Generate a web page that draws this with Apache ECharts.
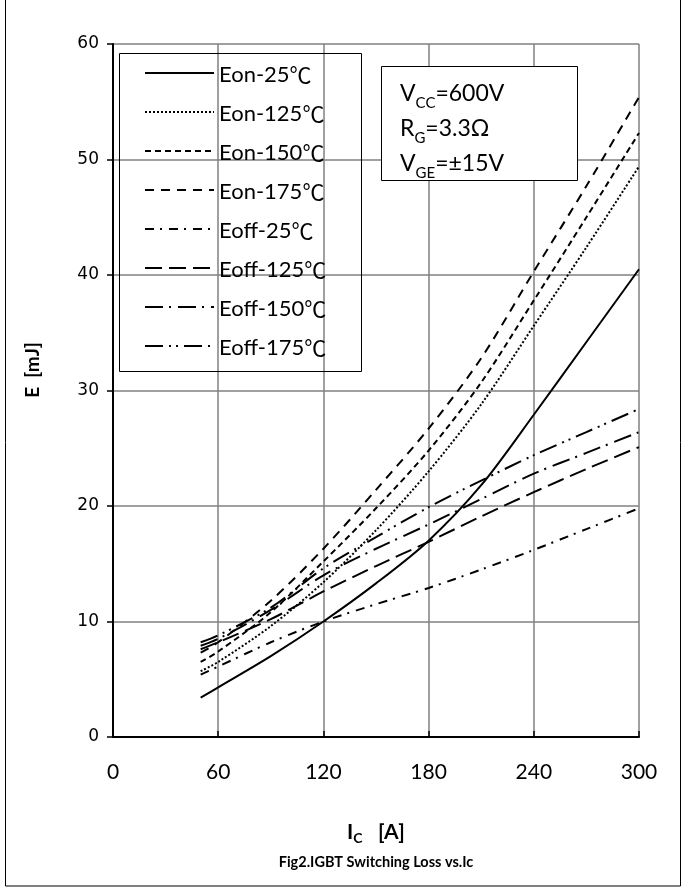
<!DOCTYPE html>
<html><head><meta charset="utf-8">
<script src="https://cdn.jsdelivr.net/npm/echarts@6/dist/echarts.min.js"></script>
<style>html,body{margin:0;padding:0;background:#fff}#c{width:686px;height:892px}</style>
</head><body><div id="c"></div>
<script>
// Collector current Ic [A]
const currents = [50, 60, 90, 120, 150, 180, 210, 240, 270, 300];
// Switching energy [mJ]
const eon25   = [3.4, 4.3, 7.0, 10.0, 13.3, 17.0, 21.8, 27.9, 34.2, 40.5];
const eon125  = [5.7, 6.5, 9.6, 13.4, 17.9, 23.0, 28.8, 35.6, 42.4, 49.4];
const eon150  = [6.5, 7.4, 10.8, 15.2, 19.8, 24.8, 30.7, 37.8, 45.0, 52.3];
const eon175  = [7.3, 8.2, 11.8, 16.3, 21.4, 26.7, 32.8, 40.3, 47.7, 55.4];
const eoff25  = [5.4, 6.1, 8.2, 10.0, 11.5, 12.9, 14.5, 16.2, 18.0, 19.8];
const eoff125 = [7.6, 8.2, 10.2, 12.6, 14.8, 16.9, 19.1, 21.2, 23.2, 25.1];
const eoff150 = [7.9, 8.5, 11.0, 14.0, 16.3, 18.4, 20.6, 22.8, 24.6, 26.4];
const eoff175 = [8.2, 8.8, 11.2, 14.6, 17.3, 19.9, 22.2, 24.4, 26.4, 28.4];
const seriesNames = ['Eon-25℃','Eon-125℃','Eon-150℃','Eon-175℃','Eoff-25℃','Eoff-125℃','Eoff-150℃','Eoff-175℃'];
const xTicks = [0, 60, 120, 180, 240, 300];
const yTicks = [0, 10, 20, 30, 40, 50, 60];

const allValues = [eon25, eon125, eon150, eon175, eoff25, eoff125, eoff150, eoff175];
const dashes = ['solid', [2, 2], [6, 4], [9, 7], [9, 6, 2, 7], [17, 7], [18, 6, 2, 7], [18, 6, 2, 5, 2, 6]];

const series = allValues.map((vals, i) => ({
  name: seriesNames[i],
  type: 'line',
  smooth: 0.3,
  symbol: 'none',
  data: currents.map((c, j) => [c, vals[j]]),
  lineStyle: { color: '#000', width: 2, type: dashes[i] },
  itemStyle: { color: '#000' },
  z: 3
}));

const chart = echarts.init(document.getElementById('c'), null, { renderer: 'canvas' });
const calib = 'Lato, "Open Sans", sans-serif';
chart.setOption({
  animation: false,
  backgroundColor: '#fff',
  grid: { left: 113, right: 47, top: 44, bottom: 155, containLabel: false },
  xAxis: {
    type: 'value', min: xTicks[0], max: xTicks[xTicks.length - 1], interval: 60,
    axisLine: { show: true, lineStyle: { color: '#000', width: 2 } },
    axisTick: { show: true, inside: true, length: 6, lineStyle: { color: '#000', width: 1.5 } },
    axisLabel: { margin: 25, fontFamily: calib, fontSize: 21, color: '#000' },
    splitLine: { show: true, lineStyle: { color: '#808080', width: 1.5 } }
  },
  yAxis: {
    type: 'value', min: yTicks[0], max: yTicks[yTicks.length - 1], interval: 10,
    axisLine: { show: true, lineStyle: { color: '#000', width: 2 } },
    axisTick: { show: true, inside: false, length: 6, lineStyle: { color: '#000', width: 1.5 } },
    axisLabel: { margin: 14, fontFamily: '"DejaVu Sans", sans-serif', fontSize: 17, color: '#000' },
    splitLine: { show: true, lineStyle: { color: '#808080', width: 1.5 } }
  },
  legend: {
    orient: 'vertical', left: 144, top: 60, padding: 0,
    itemWidth: 69, itemHeight: 20, itemGap: 13,
    itemStyle: { opacity: 0 },
    formatter: name => '{t|' + name.replace('℃', '') + '}{c|℃}',
    textStyle: {
      color: '#000',
      rich: {
        t: { fontFamily: calib, fontSize: 22, lineHeight: 20, color: '#000', padding: [4, 0, 0, 0] },
        c: { fontFamily: '"Noto Sans CJK SC", sans-serif', fontSize: 22, lineHeight: 20, color: '#000', padding: [4, 0, 0, 0] }
      }
    },
    data: seriesNames
  },
  graphic: [
    { type: 'rect', shape: { x: 5.5, y: -2, width: 675, height: 888 }, style: { fill: 'none', stroke: '#000', lineWidth: 1 }, z: 0, silent: true },
    { type: 'rect', shape: { x: 119.5, y: 53.5, width: 242, height: 318 }, style: { fill: 'none', stroke: '#000', lineWidth: 1 }, z: 10, silent: true },
    { type: 'rect', shape: { x: 381.5, y: 66.5, width: 196, height: 114 }, style: { fill: '#fff', stroke: '#000', lineWidth: 1 }, z: 10, silent: true },
    { type: 'text', x: 400, y: 76, z: 11, style: {
        text: '{a|V}{s|CC}{a|=600V}\n{a|R}{s|G}{a|=3.3Ω}\n{a|V}{s|GE}{a|=±15V}',
        rich: {
          a: { fontFamily: calib, fontSize: 23, color: '#000', lineHeight: 35 },
          s: { fontFamily: calib, fontSize: 15, color: '#000', lineHeight: 14, verticalAlign: 'bottom' }
        } } },
    { type: 'text', x: 33, y: 370, rotation: Math.PI / 2, z: 11, style: {
        text: 'E  [mJ]', fontFamily: calib, fontSize: 19, fontWeight: 'bold', fill: '#000', align: 'center', verticalAlign: 'middle' } },
    { type: 'text', x: 376, y: 832, z: 11, style: {
        text: '{a|I}{s|C}{a|   [A]}', align: 'center', verticalAlign: 'middle',
        rich: {
          a: { fontFamily: calib, fontSize: 21, fontWeight: 'bold', color: '#000', lineHeight: 26 },
          s: { fontFamily: calib, fontSize: 14, fontWeight: 'bold', color: '#000', lineHeight: 10, verticalAlign: 'bottom' }
        } } },
    { type: 'text', x: 376, y: 862, z: 11, style: {
        text: 'Fig2.IGBT Switching Loss vs.Ic', fontFamily: calib, fontSize: 14.5, fontWeight: 'bold', fill: '#000', align: 'center', verticalAlign: 'middle' } }
  ],
  series: series
});
</script></body></html>
